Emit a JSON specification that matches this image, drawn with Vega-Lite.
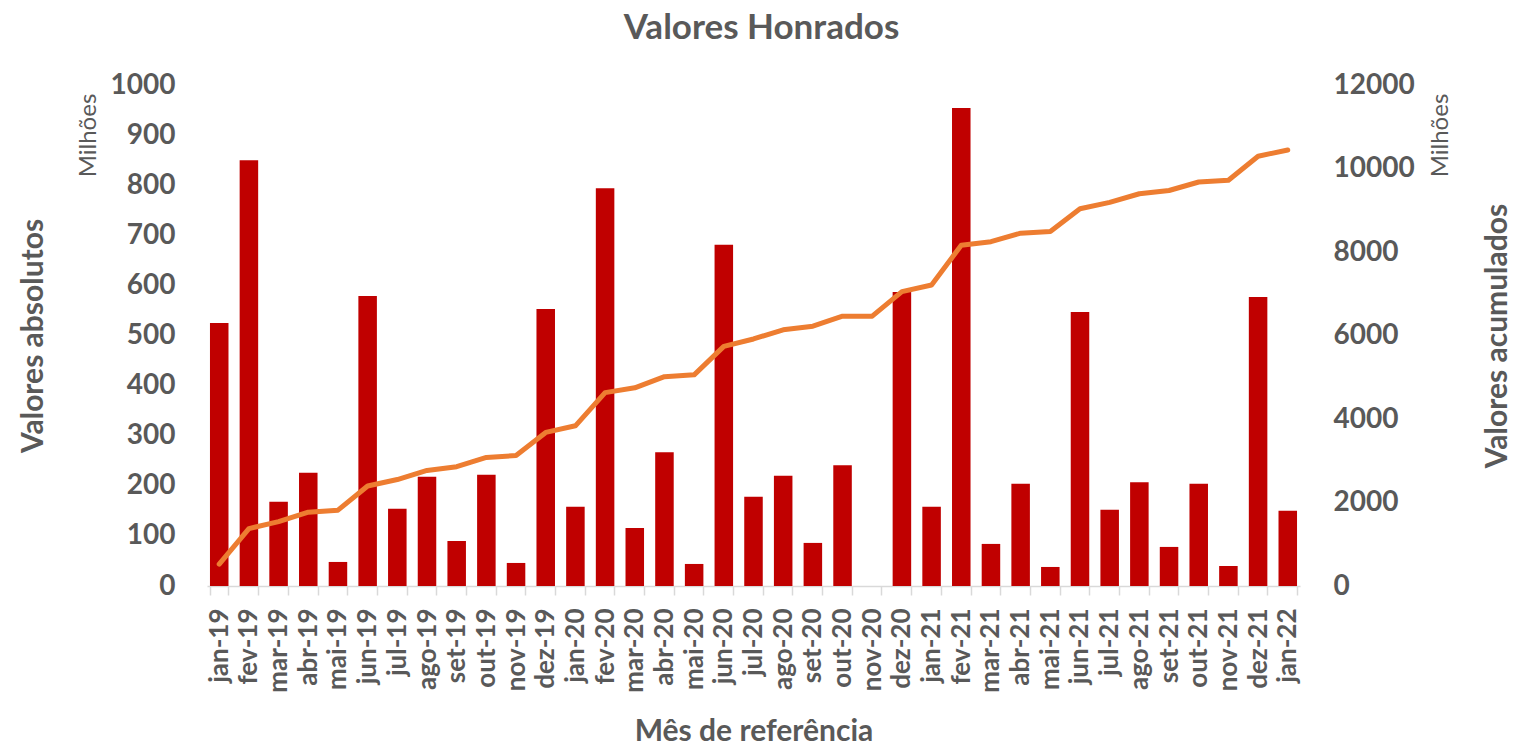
{
  "$schema": "https://vega.github.io/schema/vega-lite/v6.json",
  "autosize": {"type": "none"},
  "padding": {"left": 207, "top": 85, "right": 214, "bottom": 161},
  "width": 1093,
  "height": 501,
  "background": "white",
  "config": {"font": "Lato", "view": {"stroke": null}, "axis": {"grid": false}},
  "title": {"text": "Valores Honrados", "font": "Lato", "fontSize": 35, "fontWeight": "bold", "color": "#595959", "anchor": "middle", "offset": 25, "dx": 8},
  "data": {"values": [
    {"mes": "jan-19", "valor": 525, "acumulado": 525},
    {"mes": "fev-19", "valor": 850, "acumulado": 1375},
    {"mes": "mar-19", "valor": 168, "acumulado": 1543},
    {"mes": "abr-19", "valor": 226, "acumulado": 1769},
    {"mes": "mai-19", "valor": 48, "acumulado": 1817},
    {"mes": "jun-19", "valor": 579, "acumulado": 2396},
    {"mes": "jul-19", "valor": 154, "acumulado": 2550},
    {"mes": "ago-19", "valor": 218, "acumulado": 2768},
    {"mes": "set-19", "valor": 90, "acumulado": 2858},
    {"mes": "out-19", "valor": 222, "acumulado": 3080},
    {"mes": "nov-19", "valor": 46, "acumulado": 3126},
    {"mes": "dez-19", "valor": 553, "acumulado": 3679},
    {"mes": "jan-20", "valor": 158, "acumulado": 3837},
    {"mes": "fev-20", "valor": 794, "acumulado": 4631},
    {"mes": "mar-20", "valor": 116, "acumulado": 4747},
    {"mes": "abr-20", "valor": 267, "acumulado": 5014},
    {"mes": "mai-20", "valor": 44, "acumulado": 5058},
    {"mes": "jun-20", "valor": 681, "acumulado": 5739},
    {"mes": "jul-20", "valor": 178, "acumulado": 5917},
    {"mes": "ago-20", "valor": 220, "acumulado": 6137},
    {"mes": "set-20", "valor": 86, "acumulado": 6223},
    {"mes": "out-20", "valor": 241, "acumulado": 6464},
    {"mes": "nov-20", "valor": 0, "acumulado": 6464},
    {"mes": "dez-20", "valor": 587, "acumulado": 7051},
    {"mes": "jan-21", "valor": 158, "acumulado": 7209},
    {"mes": "fev-21", "valor": 954, "acumulado": 8163},
    {"mes": "mar-21", "valor": 84, "acumulado": 8247},
    {"mes": "abr-21", "valor": 204, "acumulado": 8451},
    {"mes": "mai-21", "valor": 38, "acumulado": 8489},
    {"mes": "jun-21", "valor": 547, "acumulado": 9036},
    {"mes": "jul-21", "valor": 152, "acumulado": 9188},
    {"mes": "ago-21", "valor": 207, "acumulado": 9395},
    {"mes": "set-21", "valor": 78, "acumulado": 9473},
    {"mes": "out-21", "valor": 204, "acumulado": 9677},
    {"mes": "nov-21", "valor": 40, "acumulado": 9717},
    {"mes": "dez-21", "valor": 577, "acumulado": 10294},
    {"mes": "jan-22", "valor": 150, "acumulado": 10444}
  ]},
  "encoding": {
    "x": {
      "field": "mes", "type": "ordinal", "sort": null,
      "scale": {"paddingInner": 0.376, "paddingOuter": 0.1},
      "axis": {
        "title": "Mês de referência", "titleFontSize": 30, "titleFontWeight": "bold", "titleColor": "#595959",
        "titleY": 145, "titleBaseline": "middle",
        "labelAngle": -90, "labelFontSize": 26, "labelFontWeight": "bold", "labelColor": "#595959",
        "labelPadding": 13, "tickSize": 9, "tickColor": "#D9D9D9", "tickWidth": 1.5,
        "domainColor": "#D9D9D9", "domainWidth": 1.5, "tickBand": "extent"
      }
    }
  },
  "layer": [
    {
      "mark": {"type": "bar", "color": "#C00000"},
      "encoding": {
        "y": {
          "field": "valor", "type": "quantitative",
          "scale": {"domain": [0, 1000]},
          "axis": {
            "orient": "left", "values": [0, 100, 200, 300, 400, 500, 600, 700, 800, 900, 1000], "format": "d",
            "title": "Valores absolutos", "titleFontSize": 30, "titleFontWeight": "bold", "titleColor": "#595959",
            "titleX": -174, "titleAngle": -90, "titleBaseline": "middle", "titleAlign": "center",
            "labelFontSize": 28, "labelFontWeight": "bold", "labelColor": "#595959",
            "labelPadding": 32, "ticks": false, "tickSize": 0, "domain": false, "grid": false
          }
        }
      }
    },
    {
      "mark": {"type": "point", "opacity": 0},
      "encoding": {
        "y": {
          "field": "valor", "type": "quantitative",
          "scale": {"domain": [0, 1000]},
          "axis": {
            "orient": "left", "labels": false, "ticks": false, "domain": false, "grid": false,
            "title": "Milhões", "titleFontSize": 24, "titleFontWeight": "normal", "titleColor": "#595959",
            "titleX": -119, "titleY": 50, "titleAngle": -90, "titleBaseline": "middle", "titleAlign": "center"
          }
        }
      }
    },
    {
      "mark": {"type": "line", "color": "#ED7D31", "strokeWidth": 5, "strokeCap": "round", "strokeJoin": "round"},
      "encoding": {
        "y": {
          "field": "acumulado", "type": "quantitative",
          "scale": {"domain": [0, 12000]},
          "axis": {
            "orient": "right", "values": [0, 2000, 4000, 6000, 8000, 10000, 12000], "format": "d",
            "title": "Valores acumulados", "titleFontSize": 30, "titleFontWeight": "bold", "titleColor": "#595959",
            "titleX": 197, "titleAngle": -90, "titleBaseline": "middle", "titleAlign": "center",
            "labelFontSize": 28, "labelFontWeight": "bold", "labelColor": "#595959",
            "labelPadding": 33, "ticks": false, "tickSize": 0, "domain": false, "grid": false
          }
        }
      }
    },
    {
      "mark": {"type": "point", "opacity": 0},
      "encoding": {
        "y": {
          "field": "acumulado", "type": "quantitative",
          "scale": {"domain": [0, 12000]},
          "axis": {
            "orient": "right", "labels": false, "ticks": false, "domain": false, "grid": false,
            "title": "Milhões", "titleFontSize": 24, "titleFontWeight": "normal", "titleColor": "#595959",
            "titleX": 140, "titleY": 50, "titleAngle": -90, "titleBaseline": "middle", "titleAlign": "center"
          }
        }
      }
    }
  ],
  "resolve": {"scale": {"y": "independent"}, "axis": {"y": "independent"}}
}
